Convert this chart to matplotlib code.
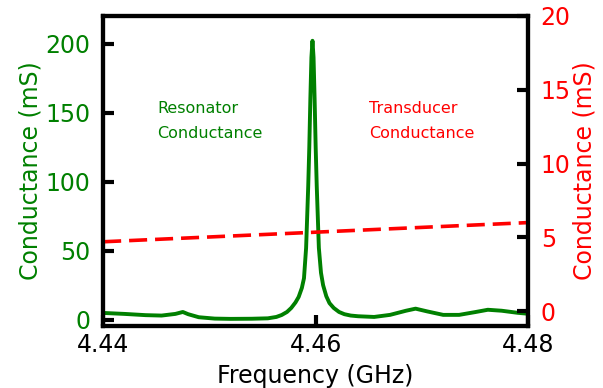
import numpy as np
import matplotlib
matplotlib.use("Agg")
import matplotlib.pyplot as plt

# resonator conductance (mS)
freq = [4.4400, 4.4420, 4.4440, 4.4455, 4.4468, 4.4475, 4.4480, 4.4490, 4.4505,
        4.4520, 4.4540, 4.4555, 4.4563, 4.4568, 4.4573, 4.4577, 4.4581, 4.4584,
        4.4587, 4.4589, 4.4591, 4.4593, 4.4594, 4.4595, 4.4596, 4.4597, 4.4598,
        4.4599, 4.4600, 4.4601, 4.4603, 4.4605, 4.4607, 4.4610, 4.4613, 4.4617,
        4.4622, 4.4627, 4.4633, 4.4640, 4.4655, 4.4670, 4.4685, 4.4694, 4.4705,
        4.4720, 4.4735, 4.4750, 4.4762, 4.4775, 4.4790, 4.4800]
res_g = [4.9, 4.2, 3.3, 3.0, 4.2, 5.6, 4.0, 1.8, 0.8,
         0.6, 0.7, 1.0, 2.0, 3.4, 5.6, 8.5, 12.5, 16.5,
         23, 30, 52, 97, 125, 160, 190, 202, 190,
         160, 125, 97, 52, 34, 25, 17, 12, 8.5,
         5.6, 4.0, 3.0, 2.5, 2.0, 3.5, 6.5, 8.0, 6.0,
         3.5, 3.5, 5.5, 7.2, 6.5, 5.0, 4.3]

# transducer conductance (mS), straight dashed line
trans_f = [4.44, 4.48]
trans_g = [4.7, 6.0]

xticks = [4.44, 4.46, 4.48]
left_ticks = [0, 50, 100, 150, 200]
right_ticks = [0, 5, 10, 15, 20]

fig, ax = plt.subplots(figsize=(6.03, 3.88), dpi=100)
fig.subplots_adjust(left=0.171, right=0.876, top=0.959, bottom=0.160)

ax.plot(freq, res_g, color="green", lw=2.8)
ax.set_xlim(4.44, 4.48)
ax.set_ylim(-4.5, 220)
ax.set_xticks(xticks)
ax.set_xticklabels(["4.44", "4.46", "4.48"])
ax.set_yticks(left_ticks)
ax.set_xlabel("Frequency (GHz)", fontsize=17, labelpad=5)
ax.set_ylabel("Conductance (mS)", fontsize=17, color="green", labelpad=2)
ax.tick_params(axis="y", labelcolor="green")

ax2 = ax.twinx()
ax2.plot(trans_f, trans_g, color="red", lw=2.6, linestyle=(0, (5, 2.2)))
ax2.set_ylim(-1, 20)
ax2.set_yticks(right_ticks)
ax2.set_ylabel("Conductance (mS)", fontsize=17, color="red", labelpad=1)
ax2.tick_params(axis="y", labelcolor="red")

for a in (ax, ax2):
    a.tick_params(direction="in", length=8, width=3, labelsize=17)
    a.tick_params(axis="y", pad=9)
    a.tick_params(axis="x", pad=5)
    for s in a.spines.values():
        s.set_linewidth(3)

ax.text(0.127, 0.661, "Resonator\nConductance", transform=ax.transAxes,
        color="green", fontsize=11.5, va="center", ha="left", linespacing=1.8)
ax.text(0.626, 0.661, "Transducer\nConductance", transform=ax.transAxes,
        color="red", fontsize=11.5, va="center", ha="left", linespacing=1.8)

plt.savefig("out.png", dpi=100)
